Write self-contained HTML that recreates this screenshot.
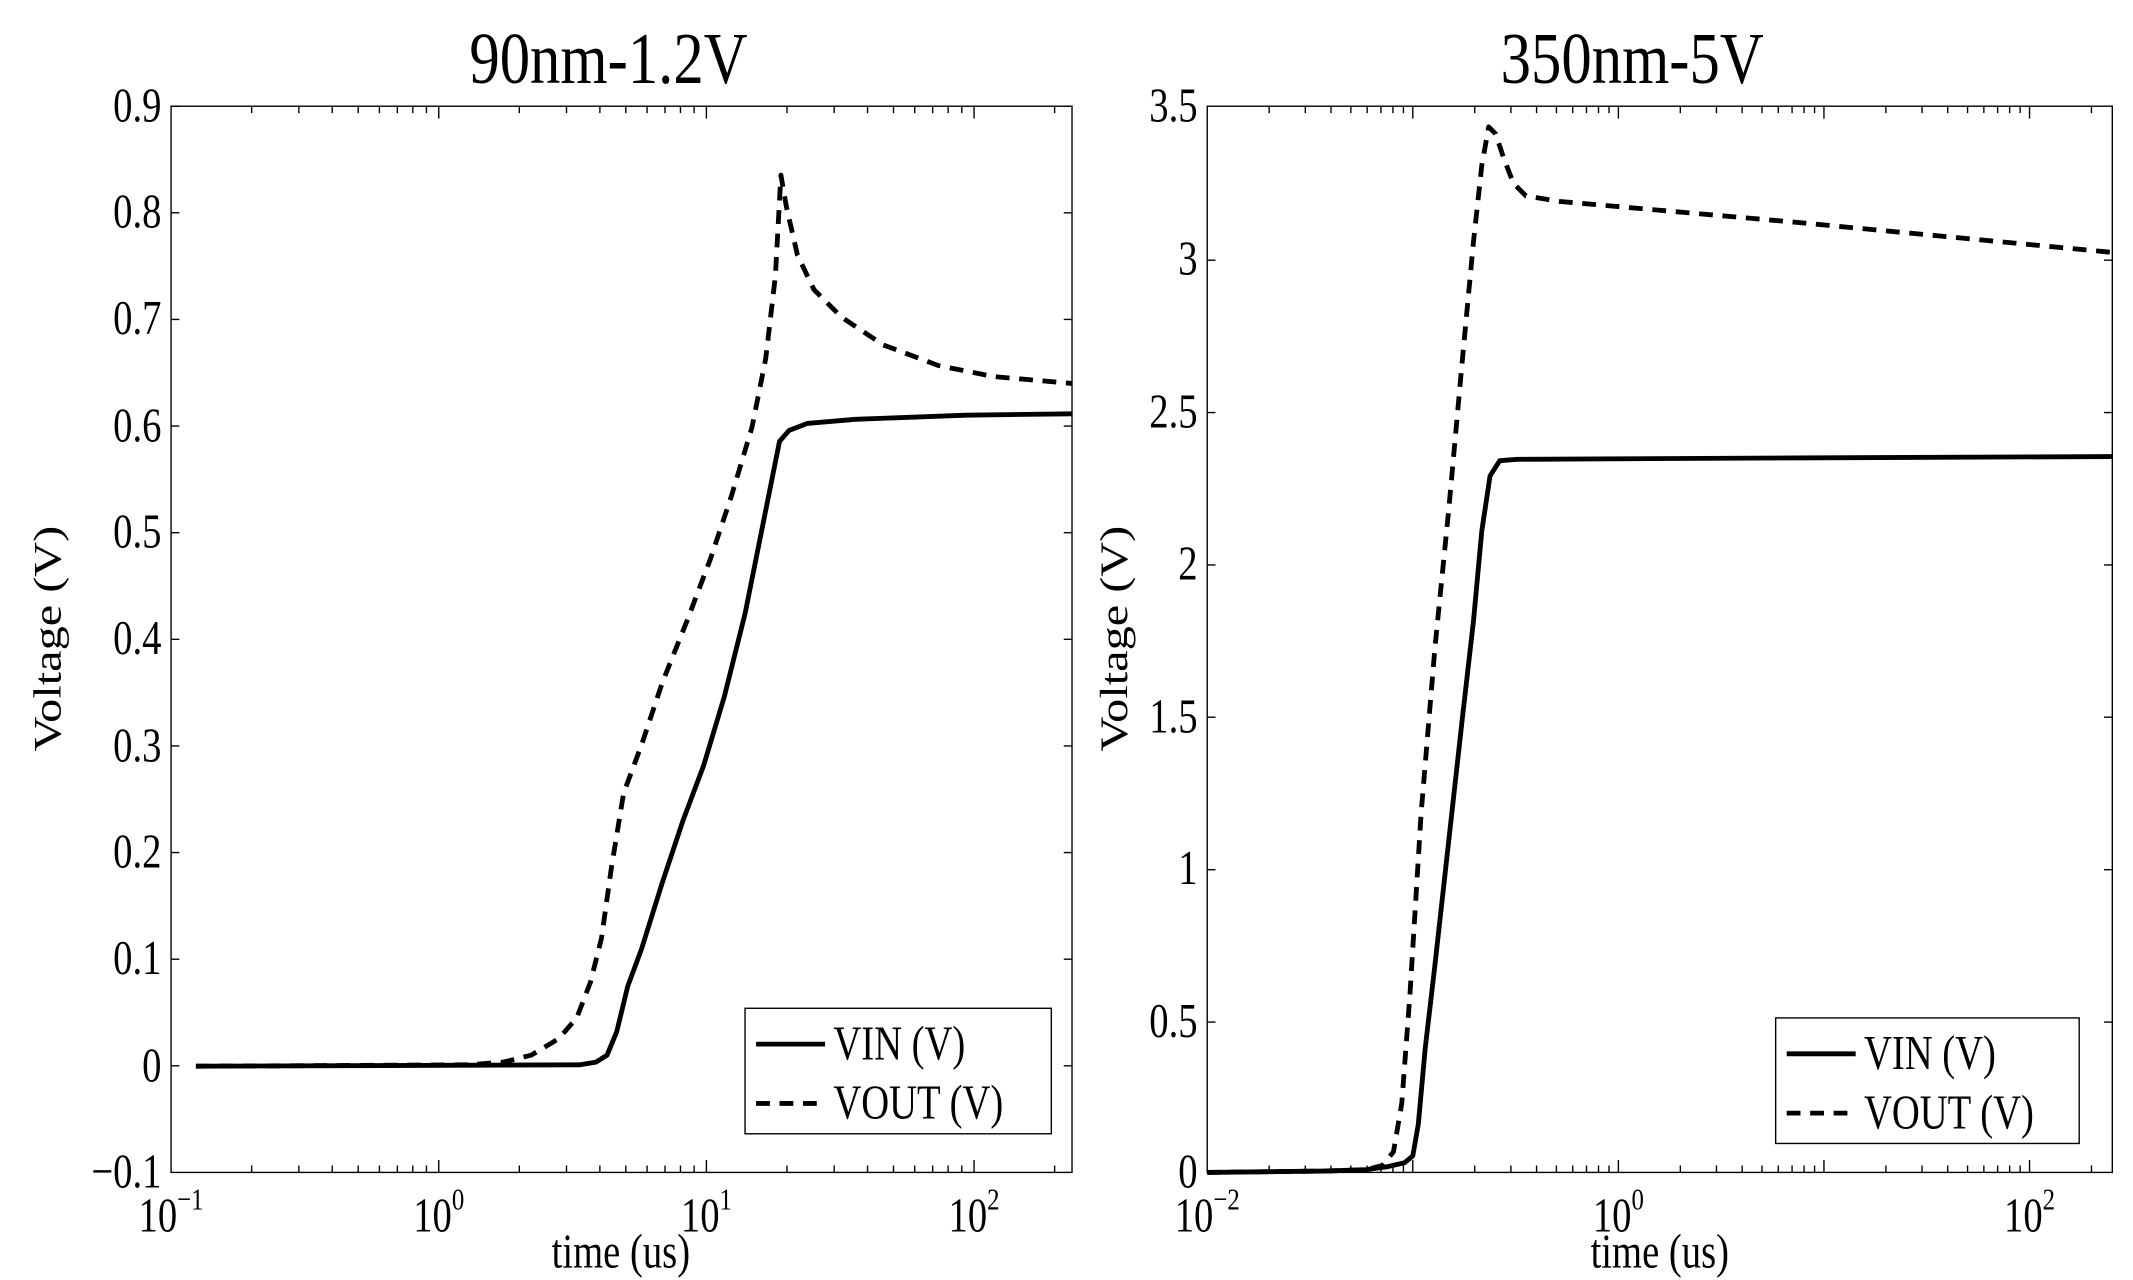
<!DOCTYPE html>
<html><head><meta charset="utf-8"><style>
html,body{margin:0;padding:0;background:#fff;}
svg{display:block;}
text{font-family:"Liberation Serif",serif;fill:#000;}
</style></head><body>
<svg width="2133" height="1280" viewBox="0 0 1546 928" preserveAspectRatio="none" xmlns="http://www.w3.org/2000/svg">
<rect width="1546" height="928" fill="#fff"/>
<!-- LEFT PLOT -->
<g stroke="#000" fill="none" stroke-width="1">
<rect x="124" y="77" width="653" height="773"/>
<path d="M124 77h6M124 154.3h6M124 231.6h6M124 308.9h6M124 386.2h6M124 463.5h6M124 540.8h6M124 618.1h6M124 695.4h6M124 772.7h6"/>
<path d="M777 77h-6M777 154.3h-6M777 231.6h-6M777 308.9h-6M777 386.2h-6M777 463.5h-6M777 540.8h-6M777 618.1h-6M777 695.4h-6M777 772.7h-6"/>
<path d="M318 850v-9M512 850v-9M706 850v-9M318 77v9M512 77v9M706 77v9"/>
<path d="M182.4 850v-5M216.6 850v-5M240.8 850v-5M259.6 850v-5M275 850v-5M288 850v-5M299.2 850v-5M309.1 850v-5
M376.4 850v-5M410.6 850v-5M434.8 850v-5M453.6 850v-5M469 850v-5M482 850v-5M493.2 850v-5M503.1 850v-5
M570.4 850v-5M604.6 850v-5M628.8 850v-5M647.6 850v-5M663 850v-5M676 850v-5M687.2 850v-5M697.1 850v-5
M764.4 850v-5
M182.4 77v5M216.6 77v5M240.8 77v5M259.6 77v5M275 77v5M288 77v5M299.2 77v5M309.1 77v5
M376.4 77v5M410.6 77v5M434.8 77v5M453.6 77v5M469 77v5M482 77v5M493.2 77v5M503.1 77v5
M570.4 77v5M604.6 77v5M628.8 77v5M647.6 77v5M663 77v5M676 77v5M687.2 77v5M697.1 77v5M764.4 77v5"/>
</g>
<g font-size="28" text-anchor="end">
<text transform="translate(117 88) scale(1 1.25)">0.9</text>
<text transform="translate(117 165) scale(1 1.25)">0.8</text>
<text transform="translate(117 242) scale(1 1.25)">0.7</text>
<text transform="translate(117 320) scale(1 1.25)">0.6</text>
<text transform="translate(117 397) scale(1 1.25)">0.5</text>
<text transform="translate(117 474) scale(1 1.25)">0.4</text>
<text transform="translate(117 552) scale(1 1.25)">0.3</text>
<text transform="translate(117 629) scale(1 1.25)">0.2</text>
<text transform="translate(117 706) scale(1 1.25)">0.1</text>
<text transform="translate(117 784) scale(1 1.25)">0</text>
<text transform="translate(117 861) scale(1 1.25)">−0.1</text>
</g>
<g font-size="28" text-anchor="middle">
<text transform="translate(124 893) scale(1 1.25)">10<tspan font-size="18" dy="-13">−1</tspan></text>
<text transform="translate(318 893) scale(1 1.25)">10<tspan font-size="18" dy="-13">0</tspan></text>
<text transform="translate(512 893) scale(1 1.25)">10<tspan font-size="18" dy="-13">1</tspan></text>
<text transform="translate(706 893) scale(1 1.25)">10<tspan font-size="18" dy="-13">2</tspan></text>
<text transform="translate(450 919) scale(1 1.25)">time (us)</text>
<text transform="translate(441 60) scale(1 1.2)" font-size="44">90nm-1.2V</text>
<text transform="translate(44 463) rotate(-90) scale(1.25 1)">Voltage (V)</text>
</g>
<g fill="none" stroke="#000" stroke-width="3.5" stroke-linejoin="round">
<path d="M142 773 L420 772 L432 770 L440 765 L447 748 L455 715 L465 688 L480 640 L495 595 L510 555 L525 505 L540 445 L552 385 L560 345 L565 320 L572 312 L585 307 L620 304 L700 301 L777 300"/>
<path stroke-dasharray="10 7" d="M142 773 L340 772 L365 770 L385 765 L405 753 L418 738 L428 712 L436 680 L443 630 L452 575 L465 540 L480 495 L498 450 L515 405 L530 360 L545 310 L555 260 L562 200 L566 127 L570 150 L578 185 L590 210 L610 230 L640 250 L680 265 L720 273 L777 278"/>
</g>
<rect x="540" y="731" width="222" height="91" fill="#fff" stroke="#000" stroke-width="1"/>
<path d="M548 757h50" stroke="#000" stroke-width="3.5"/>
<path d="M548 800h50" stroke="#000" stroke-width="3.5" stroke-dasharray="10 7"/>
<g font-size="28">
<text transform="translate(604 768) scale(1 1.25)">VIN (V)</text>
<text transform="translate(604 811) scale(1 1.25)">VOUT (V)</text>
</g>

<!-- RIGHT PLOT -->
<g stroke="#000" fill="none" stroke-width="1">
<rect x="875" y="77" width="656" height="773"/>
<path d="M875 188.6h6M875 299.1h6M875 409.6h6M875 520h6M875 630.5h6M875 741h6
M1531 188.6h-6M1531 299.1h-6M1531 409.6h-6M1531 520h-6M1531 630.5h-6M1531 741h-6"/>
<path d="M1024 850v-9M1173 850v-9M1322 850v-9M1471 850v-9M1024 77v9M1173 77v9M1322 77v9M1471 77v9"/>
<path d="M919.9 850v-5M946.1 850v-5M964.7 850v-5M979.1 850v-5M990.9 850v-5M1000.9 850v-5M1009.6 850v-5M1017.2 850v-5
M1068.9 850v-5M1095.1 850v-5M1113.7 850v-5M1128.1 850v-5M1139.9 850v-5M1149.9 850v-5M1158.6 850v-5M1166.2 850v-5
M1217.9 850v-5M1244.1 850v-5M1262.7 850v-5M1277.1 850v-5M1288.9 850v-5M1298.9 850v-5M1307.6 850v-5M1315.2 850v-5
M1366.9 850v-5M1393.1 850v-5M1411.7 850v-5M1426.1 850v-5M1437.9 850v-5M1447.9 850v-5M1456.6 850v-5M1464.2 850v-5
M1515.9 850v-5
M919.9 77v5M946.1 77v5M964.7 77v5M979.1 77v5M990.9 77v5M1000.9 77v5M1009.6 77v5M1017.2 77v5
M1068.9 77v5M1095.1 77v5M1113.7 77v5M1128.1 77v5M1139.9 77v5M1149.9 77v5M1158.6 77v5M1166.2 77v5
M1217.9 77v5M1244.1 77v5M1262.7 77v5M1277.1 77v5M1288.9 77v5M1298.9 77v5M1307.6 77v5M1315.2 77v5
M1366.9 77v5M1393.1 77v5M1411.7 77v5M1426.1 77v5M1437.9 77v5M1447.9 77v5M1456.6 77v5M1464.2 77v5M1515.9 77v5"/>
</g>
<g font-size="28" text-anchor="end">
<text transform="translate(868 88) scale(1 1.25)">3.5</text>
<text transform="translate(868 199) scale(1 1.25)">3</text>
<text transform="translate(868 310) scale(1 1.25)">2.5</text>
<text transform="translate(868 420) scale(1 1.25)">2</text>
<text transform="translate(868 531) scale(1 1.25)">1.5</text>
<text transform="translate(868 641) scale(1 1.25)">1</text>
<text transform="translate(868 752) scale(1 1.25)">0.5</text>
<text transform="translate(868 861) scale(1 1.25)">0</text>
</g>
<g font-size="28" text-anchor="middle">
<text transform="translate(875 893) scale(1 1.25)">10<tspan font-size="18" dy="-13">−2</tspan></text>
<text transform="translate(1173 893) scale(1 1.25)">10<tspan font-size="18" dy="-13">0</tspan></text>
<text transform="translate(1471 893) scale(1 1.25)">10<tspan font-size="18" dy="-13">2</tspan></text>
<text transform="translate(1203 919) scale(1 1.25)">time (us)</text>
<text transform="translate(1183 60) scale(1 1.2)" font-size="44">350nm-5V</text>
<text transform="translate(817 463) rotate(-90) scale(1.25 1)">Voltage (V)</text>
</g>
<g fill="none" stroke="#000" stroke-width="3.5" stroke-linejoin="round">
<path d="M875 850 L960 849 L990 848 L1005 846 L1018 843 L1024 838 L1028 815 L1033 760 L1040 700 L1050 610 L1060 520 L1068 450 L1074 385 L1080 345 L1087 334 L1100 333 L1300 332 L1531 331"/>
<path stroke-dasharray="10 7" d="M875 850 L960 849 L990 848 L1002 845 L1010 835 L1016 800 L1022 720 L1030 590 L1040 470 L1050 370 L1060 260 L1068 175 L1074 120 L1079 92 L1084 97 L1090 115 L1097 133 L1106 142 L1130 146 L1300 161 L1531 183"/>
</g>
<rect x="1287" y="738" width="220" height="91" fill="#fff" stroke="#000" stroke-width="1"/>
<path d="M1295 764h50" stroke="#000" stroke-width="3.5"/>
<path d="M1295 807h50" stroke="#000" stroke-width="3.5" stroke-dasharray="10 7"/>
<g font-size="28">
<text transform="translate(1351 775) scale(1 1.25)">VIN (V)</text>
<text transform="translate(1351 818) scale(1 1.25)">VOUT (V)</text>
</g>
</svg>
</body></html>
